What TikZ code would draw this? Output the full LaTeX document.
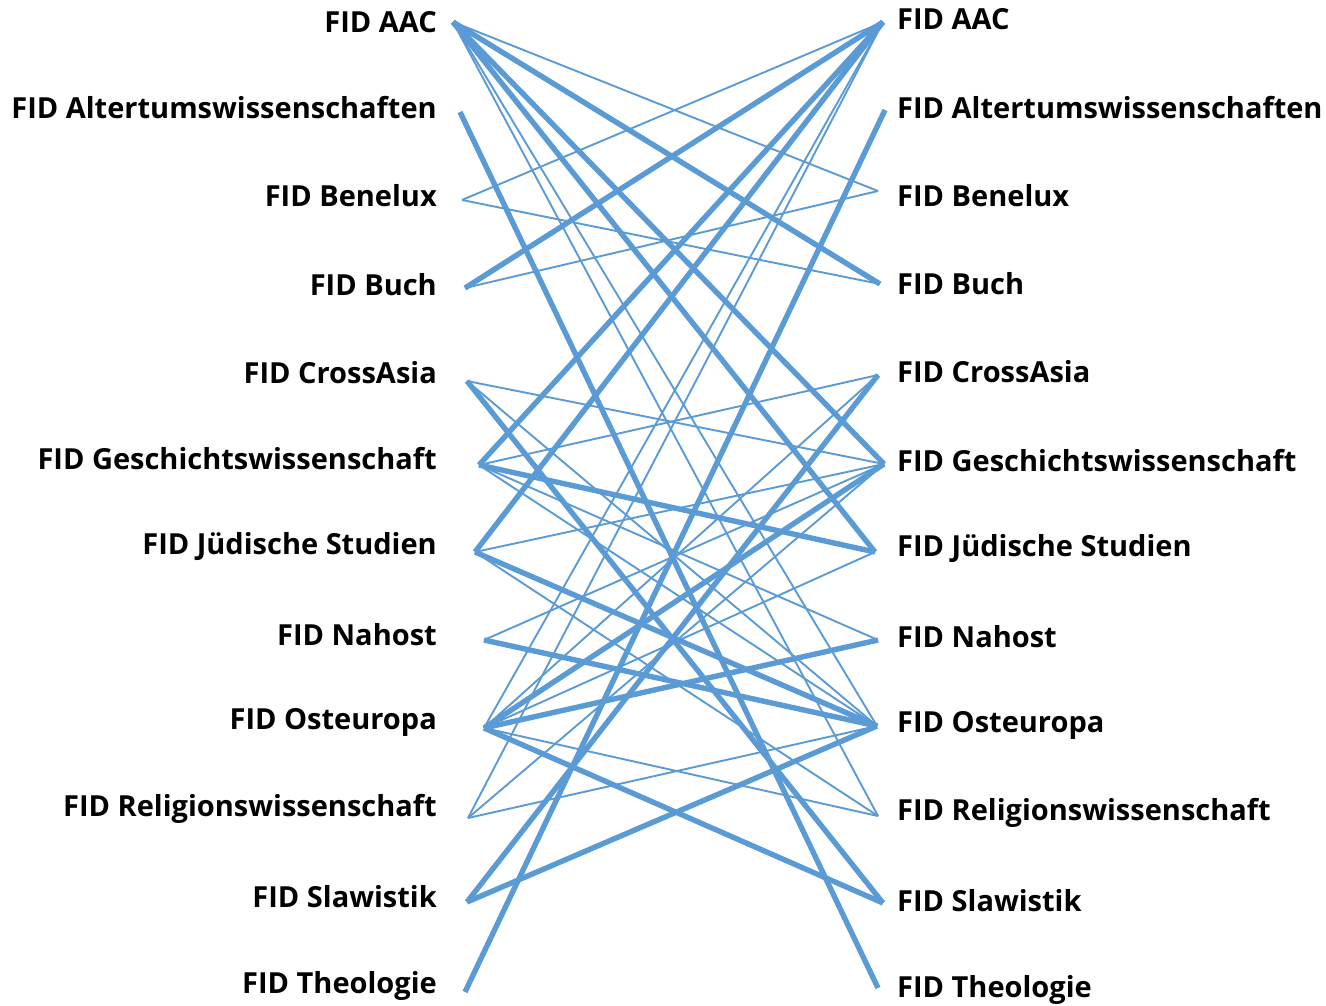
\documentclass[tikz,border=0pt]{standalone}
\usepackage{fontspec}
\setmainfont{Open Sans}
\begin{document}
\begin{tikzpicture}[x=1pt,y=-1pt,
  lab/.style={font=\fontsize{29}{34}\selectfont\bfseries, inner sep=0pt},
  thn/.style={draw=edgeblue, line width=1.9pt},
  thk/.style={draw=edgeblue, line width=5.4pt},
]
\definecolor{edgeblue}{RGB}{91,155,213}
\useasboundingbox (0,0) rectangle (1326,1005);
% left labels
\foreach \n/\t/\y in {a/FID AAC/22, b/FID Altertumswissenschaften/108, c/FID Benelux/196, d/FID Buch/285, e/FID CrossAsia/373, f/FID Geschichtswissenschaft/459, g/FID Jüdische Studien/547, h/FID Nahost/635, i/FID Osteuropa/722, j/FID Religionswissenschaft/809, k/FID Slawistik/897, l/FID Theologie/986}
  \node[lab, anchor=east] (L\n lab) at (437,\y) {\t};
\foreach \n/\t/\y in {a/FID AAC/19, b/FID Altertumswissenschaften/108, c/FID Benelux/196, d/FID Buch/284, e/FID CrossAsia/372, f/FID Geschichtswissenschaft/461, g/FID Jüdische Studien/549, h/FID Nahost/637, i/FID Osteuropa/725, j/FID Religionswissenschaft/813, k/FID Slawistik/901, l/FID Theologie/990}
  \node[lab, anchor=west] (R\n lab) at (897,\y) {\t};
% endpoints
\foreach \n/\x/\y in {a/453/22, b/460/112, c/462/200, d/465/288, e/467/381, f/479/465, g/475/552, h/484/640, i/484/728, j/468/818, k/467/902, l/465/992}
  \coordinate (L\n) at (\x,\y);
\foreach \n/\x/\y in {a/883/22, b/885/110, c/878/191, d/880/284, e/878/375, f/884/464, g/875/552, h/878/640, i/877/726, j/878/816, k/883/903, l/878/988}
  \coordinate (R\n) at (\x,\y);
% thin edges
\foreach \s/\e in {a/c, a/i, a/j, c/a, c/d, d/c, e/f, e/i, f/e, f/h, f/i, g/f, g/j, h/f, i/a, i/e, i/g, i/j, j/a, j/f, j/i}
  \draw[thn] (L\s) -- (R\e);
% thick edges
\foreach \s/\e in {a/d, a/f, a/g, b/l, d/a, e/k, f/a, f/g, g/a, g/i, h/i, i/f, i/h, i/k, k/e, k/i, l/b}
  \draw[thk] (L\s) -- (R\e);
\end{tikzpicture}
\end{document}
